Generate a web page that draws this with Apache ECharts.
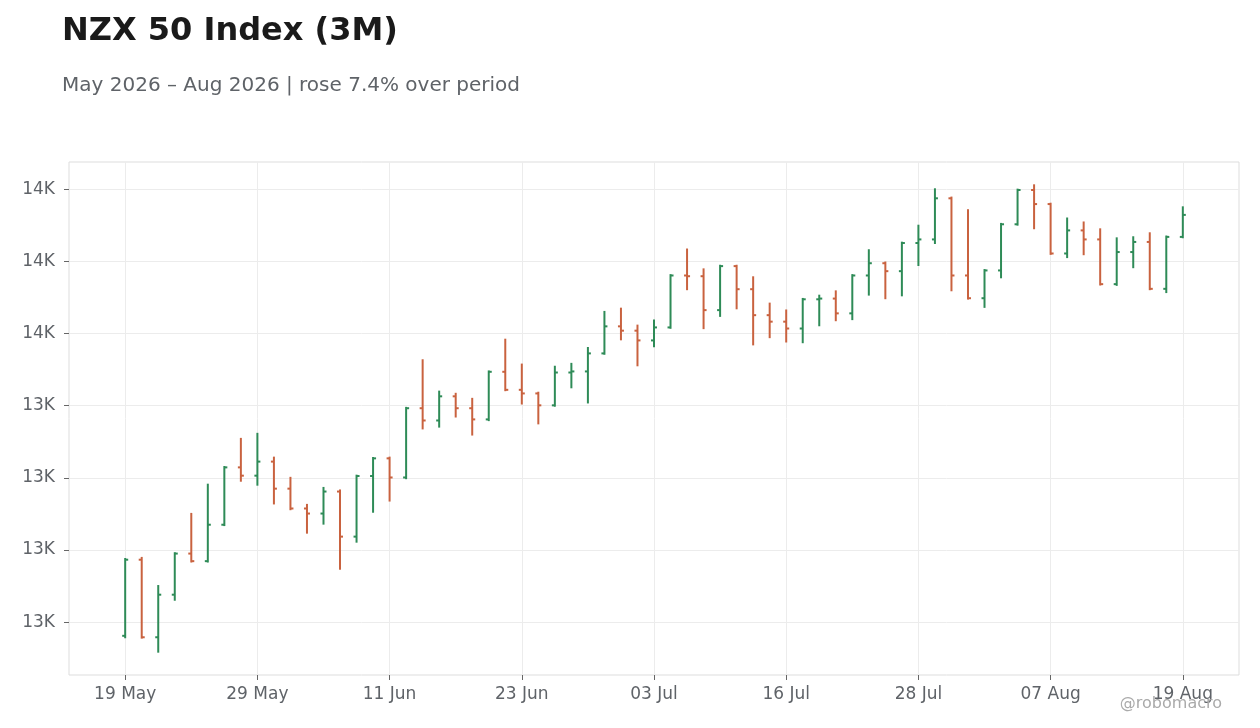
<!DOCTYPE html>
<html>
<head>
<meta charset="utf-8">
<script src="https://cdn.jsdelivr.net/npm/echarts@6.0.0/dist/echarts.min.js"></script>
<style>
  html, body { margin: 0; padding: 0; background: #fff; }
  #chart { width: 1260px; height: 728px; }
</style>
</head>
<body>
<div id="chart"></div>
<script>
// trading days, 19 May - 19 Aug 2026
var dates = [
  '2026-05-19', '2026-05-20', '2026-05-21', '2026-05-22', '2026-05-25', '2026-05-26', '2026-05-27', '2026-05-28', '2026-05-29',
  '2026-06-02', '2026-06-03', '2026-06-04', '2026-06-05', '2026-06-08', '2026-06-09', '2026-06-10', '2026-06-11',
  '2026-06-12', '2026-06-15', '2026-06-16', '2026-06-17', '2026-06-18', '2026-06-19', '2026-06-22', '2026-06-23',
  '2026-06-24', '2026-06-25', '2026-06-26', '2026-06-29', '2026-06-30', '2026-07-01', '2026-07-02', '2026-07-03',
  '2026-07-06', '2026-07-07', '2026-07-08', '2026-07-09', '2026-07-13', '2026-07-14', '2026-07-15', '2026-07-16',
  '2026-07-17', '2026-07-20', '2026-07-21', '2026-07-22', '2026-07-23', '2026-07-24', '2026-07-27', '2026-07-28',
  '2026-07-29', '2026-07-30', '2026-07-31', '2026-08-03', '2026-08-04', '2026-08-05', '2026-08-06', '2026-08-07',
  '2026-08-10', '2026-08-11', '2026-08-12', '2026-08-13', '2026-08-14', '2026-08-17', '2026-08-18', '2026-08-19'
];
var opens = [
  12762, 12973, 12758, 12876, 12990, 12969, 13070, 13229, 13206, 13245, 13170, 13115, 13101,
  13162, 13037, 13205, 13254, 13201, 13393, 13359, 13426, 13393, 13362, 13494, 13444, 13434,
  13401, 13492, 13495, 13545, 13620, 13608, 13581, 13617, 13761, 13759, 13665, 13787, 13723,
  13651, 13633, 13614, 13695, 13697, 13656, 13761, 13795, 13773, 13851, 13861, 13975, 13761,
  13698, 13775, 13903, 13998, 13959, 13822, 13886, 13861, 13737, 13826, 13854, 13724, 13868
];
var highs = [
  12975, 12978, 12900, 12991, 13100, 13181, 13230, 13308, 13322, 13256, 13200, 13125, 13172,
  13165, 13206, 13255, 13256, 13394, 13526, 13439, 13433, 13419, 13495, 13583, 13514, 13436,
  13508, 13516, 13560, 13660, 13669, 13622, 13636, 13762, 13833, 13778, 13788, 13788, 13756,
  13683, 13664, 13696, 13705, 13717, 13762, 13831, 13797, 13852, 13899, 14000, 13977, 13942,
  13776, 13904, 13999, 14011, 13960, 13919, 13908, 13889, 13864, 13867, 13878, 13869, 13950
];
var lows = [
  12758, 12757, 12718, 12862, 12968, 12968, 13069, 13192, 13181, 13129, 13113, 13048, 13073,
  12948, 13023, 13106, 13137, 13199, 13337, 13342, 13370, 13320, 13360, 13443, 13406, 13351,
  13400, 13451, 13409, 13544, 13584, 13512, 13565, 13616, 13723, 13615, 13649, 13670, 13570,
  13590, 13578, 13576, 13623, 13637, 13640, 13708, 13698, 13706, 13790, 13851, 13720, 13697,
  13674, 13756, 13902, 13892, 13821, 13812, 13820, 13736, 13735, 13784, 13723, 13715, 13867
];
var closes = [
  12973, 12758, 12876, 12990, 12969, 13070, 13229, 13206, 13245, 13170, 13115, 13101, 13162,
  13037, 13205, 13254, 13201, 13393, 13359, 13426, 13393, 13362, 13494, 13444, 13434, 13401,
  13492, 13495, 13545, 13620, 13608, 13581, 13617, 13761, 13759, 13665, 13787, 13723, 13651,
  13633, 13614, 13695, 13697, 13656, 13761, 13795, 13773, 13851, 13861, 13975, 13761, 13698,
  13775, 13903, 13998, 13959, 13822, 13886, 13861, 13737, 13826, 13854, 13724, 13868, 13929
];
var yTicks = [12800, 13000, 13200, 13400, 13600, 13800, 14000];
var xTicks = [0, 8, 16, 24, 32, 40, 48, 56, 64];
var months = ['Jan', 'Feb', 'Mar', 'Apr', 'May', 'Jun', 'Jul', 'Aug', 'Sep', 'Oct', 'Nov', 'Dec'];

var upColor = '#2e8b57';
var downColor = '#c9623f';
var font = 'DejaVu Sans';

function fmtDate(s) {
  var p = s.split('-');
  return p[2] + ' ' + months[parseInt(p[1], 10) - 1];
}

var ohlc = dates.map(function (d, i) {
  return [i, opens[i], closes[i], lows[i], highs[i]];
});

// 5% padding around the data, like the source plot
var lo = Math.min.apply(null, lows);
var hi = Math.max.apply(null, highs);
var pad = (hi - lo) * 0.05;

function renderItem(params, api) {
  var i = api.value(0);
  var o = api.coord([i, api.value(1)]);
  var c = api.coord([i, api.value(2)]);
  var l = api.coord([i, api.value(3)]);
  var h = api.coord([i, api.value(4)]);
  var color = api.value(2) >= api.value(1) ? upColor : downColor;
  var st = { stroke: color, lineWidth: 2 };
  var t = 3;
  return {
    type: 'group',
    children: [
      { type: 'line', shape: { x1: h[0], y1: h[1] - 1, x2: l[0], y2: l[1] + 1 }, style: st },
      { type: 'line', shape: { x1: o[0] - t, y1: o[1], x2: o[0], y2: o[1] }, style: st },
      { type: 'line', shape: { x1: c[0], y1: c[1], x2: c[0] + t, y2: c[1] }, style: st }
    ]
  };
}

var myChart = echarts.init(document.getElementById('chart'));
var option = {
  backgroundColor: '#fff',
  animation: false,
  title: [
    {
      text: 'NZX 50 Index (3M)',
      left: 62,
      top: 16,
      padding: 0,
      textStyle: { fontFamily: font, fontSize: 32, fontWeight: 'bold', color: '#1a1a1a' }
    },
    {
      text: 'May 2026 – Aug 2026 | rose 7.4% over period',
      left: 62,
      top: 76,
      padding: 0,
      textStyle: { fontFamily: font, fontSize: 20, fontWeight: 'normal', color: '#5f6368' }
    }
  ],
  graphic: [
    {
      type: 'text',
      right: 38,
      top: 696,
      z: 100,
      style: { text: '@robomacro', fill: '#aaaaaa', font: '16px "DejaVu Sans"' }
    }
  ],
  grid: {
    left: 69,
    right: 21,
    top: 162,
    bottom: 53,
    show: true,
    borderColor: '#dddddd',
    borderWidth: 1
  },
  xAxis: {
    type: 'value',
    position: 'bottom',
    min: -3.4,
    max: dates.length - 1 + 3.4,
    axisLine: { show: false, onZero: false },
    axisTick: {
      show: true,
      length: 5,
      customValues: xTicks,
      lineStyle: { color: '#666666', width: 1 }
    },
    axisLabel: {
      customValues: xTicks,
      margin: 11,
      fontFamily: font,
      fontSize: 17,
      color: '#5f6368',
      formatter: function (v) { return fmtDate(dates[Math.round(v)]); }
    },
    splitLine: { show: true, lineStyle: { color: '#ececec', width: 1 } }
  },
  yAxis: {
    type: 'value',
    position: 'left',
    min: lo - pad,
    max: hi + pad,
    axisLine: { show: false, onZero: false },
    axisTick: {
      show: true,
      length: 5,
      customValues: yTicks,
      lineStyle: { color: '#666666', width: 1 }
    },
    axisLabel: {
      customValues: yTicks,
      margin: 14,
      fontFamily: font,
      fontSize: 17,
      color: '#5f6368',
      formatter: function (v) { return (v / 1000).toFixed(0) + 'K'; }
    },
    splitLine: { show: true, lineStyle: { color: '#ececec', width: 1 } }
  },
  series: [
    {
      type: 'custom',
      renderItem: renderItem,
      encode: { x: 0, y: [1, 2, 3, 4] },
      data: ohlc
    }
  ]
};
myChart.setOption(option);
</script>
</body>
</html>
